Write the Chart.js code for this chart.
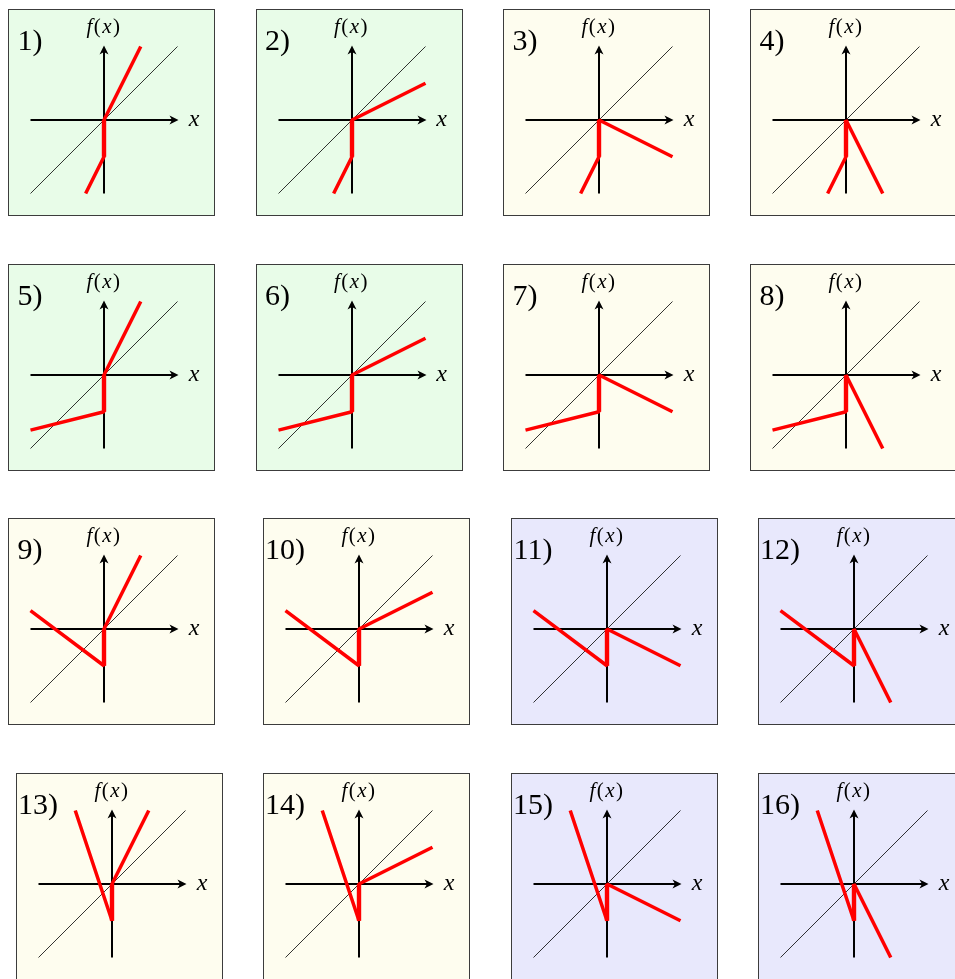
<!DOCTYPE html>
<html>
<head>
<meta charset="utf-8">
<script src="https://cdn.jsdelivr.net/npm/chart.js"></script>
<style>
  body { margin: 0; width: 955px; height: 979px; overflow: hidden; background: #fff; position: relative; }
  .box { position: absolute; box-sizing: border-box; width: 207px; height: 207px; border: 1px solid #3c3c3c; }
  canvas { position: absolute; }
  .lbl { position: absolute; transform: translate(-50%, -50%); white-space: nowrap; font-family: "Liberation Serif", serif; color: #000; line-height: 1; }
  .num { font-size: 30px; }
  .fx { font-size: 21px; letter-spacing: 1.5px; }
  .xl { font-size: 24px; font-style: italic; }
</style>
</head>
<body>
<script>
// panel labels, in reading order
const panelLabels = ["1)", "2)", "3)", "4)", "5)", "6)", "7)", "8)", "9)", "10)", "11)", "12)", "13)", "14)", "15)", "16)"];

// right branch end point, one per column (x > 0)
const rightX = [0.5, 1, 1, 0.5];
const rightY = [1, 0.5, -0.5, -1];

// left branch end point, one per row (x < 0)
const leftX = [-0.25, -1, -1, -0.5];
const leftY = [-1, -0.75, 0.25, 1];

// value just left of the jump at x = 0
const jumpY = -0.5;

// identity line and axes
const diagX = [-1, 1];
const diagY = [-1, 1];
const axisMin = -1;
const axisMax = 1;

const shade = ["g", "g", "y", "y", "g", "g", "y", "y", "y", "y", "b", "b", "y", "y", "b", "b"];
const shadeColors = { g: "#e8fce8", y: "#fefdef", b: "#e8e8fc" };

// layout: pixel origin of each panel
const originX = [
  [104, 351.5, 599, 846],
  [104, 351.5, 599, 846],
  [104, 359, 607, 854],
  [112, 359, 607, 854]
];
const originY = [120, 375, 629, 884];
const UNIT = 73.5, LEFT = 96, TOP = 111, SIZE = 207;

const arrows = {
  id: "arrows",
  afterDatasetsDraw(chart) {
    let ctx = chart.ctx, xs = chart.scales.x, ys = chart.scales.y;
    let head = (px, py, ang) => {
      ctx.save();
      ctx.translate(px, py);
      ctx.rotate(ang);
      ctx.beginPath();
      ctx.moveTo(1, 0);
      ctx.lineTo(-8, -4.5);
      ctx.lineTo(-5.5, 0);
      ctx.lineTo(-8, 4.5);
      ctx.closePath();
      ctx.fillStyle = "#000";
      ctx.fill();
      ctx.restore();
    };
    head(xs.getPixelForValue(axisMax), ys.getPixelForValue(0), 0);
    head(xs.getPixelForValue(0), ys.getPixelForValue(axisMax), -Math.PI / 2);
  }
};

panelLabels.forEach((name, i) => {
  let row = Math.floor(i / 4), col = i % 4;
  let ox = originX[row][col], oy = originY[row];

  let box = document.createElement("div");
  box.className = "box";
  box.style.left = (ox - LEFT) + "px";
  box.style.top = (oy - TOP) + "px";
  box.style.background = shadeColors[shade[i]];
  document.body.appendChild(box);

  let canvas = document.createElement("canvas");
  canvas.width = SIZE;
  canvas.height = SIZE;
  canvas.style.left = (ox - LEFT) + "px";
  canvas.style.top = (oy - TOP) + "px";
  document.body.appendChild(canvas);

  let red = [
    { x: leftX[row], y: leftY[row] },
    { x: 0, y: jumpY },
    { x: 0, y: 0 },
    { x: rightX[col], y: rightY[col] }
  ];

  // chart.js paints the first dataset on top, so the red ones come first
  new Chart(canvas, {
    type: "scatter",
    data: {
      datasets: [
        { data: red, borderColor: "#ff0000", borderWidth: 3.5, borderJoinStyle: "bevel" },
        { data: [{ x: 0, y: jumpY }, { x: 0, y: 0 }], borderColor: "#ff0000", borderWidth: 4.4 },
        { data: [{ x: axisMin, y: 0 }, { x: axisMax - 0.04, y: 0 }], borderColor: "#000", borderWidth: 2 },
        { data: [{ x: 0, y: axisMin }, { x: 0, y: axisMax - 0.04 }], borderColor: "#000", borderWidth: 2 },
        { data: diagX.map((x, k) => ({ x: x, y: diagY[k] })), borderColor: "#000", borderWidth: 0.8 }
      ].map(d => ({ ...d, showLine: true, pointRadius: 0, pointHoverRadius: 0, fill: false }))
    },
    options: {
      responsive: false,
      animation: false,
      events: [],
      layout: { padding: 0 },
      plugins: { legend: { display: false }, tooltip: { enabled: false } },
      scales: {
        x: { type: "linear", display: false, min: -LEFT / UNIT, max: (SIZE - LEFT) / UNIT },
        y: { type: "linear", display: false, min: -(SIZE - TOP) / UNIT, max: TOP / UNIT }
      }
    },
    plugins: [arrows]
  });

  let addLabel = (cls, html, x, y) => {
    let el = document.createElement("div");
    el.className = "lbl " + cls;
    el.innerHTML = html;
    el.style.left = x + "px";
    el.style.top = y + "px";
    document.body.appendChild(el);
  };
  addLabel("num", name, ox - 74, oy - 80);
  addLabel("fx", "<i>f</i>(<i>x</i>)", ox, oy - 94);
  addLabel("xl", "x", ox + 90, oy - 2);
});
</script>
</body>
</html>
